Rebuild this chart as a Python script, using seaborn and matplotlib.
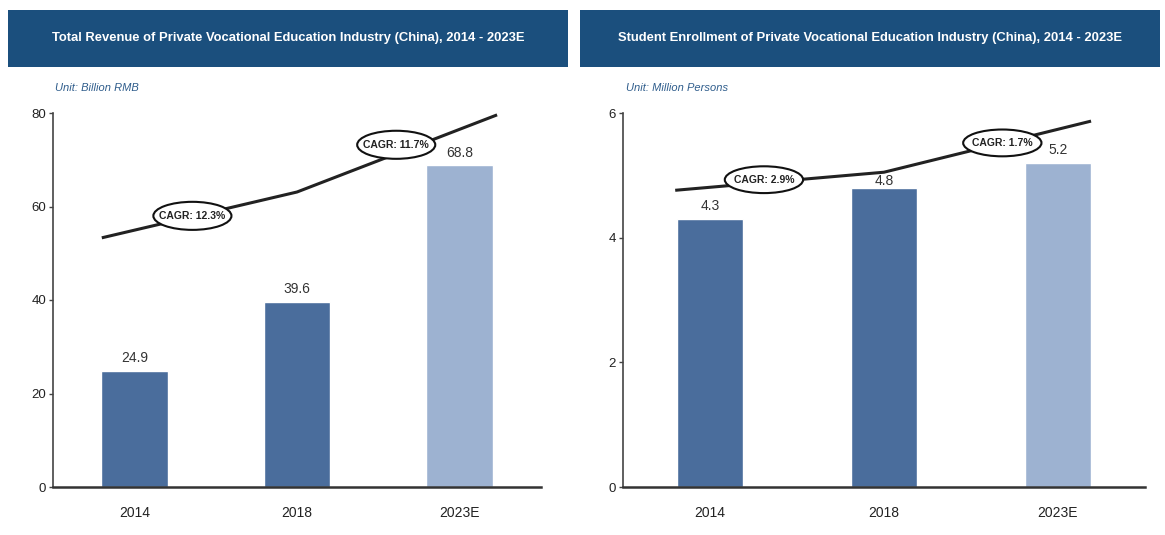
import matplotlib
matplotlib.use("Agg")
import matplotlib.pyplot as plt
import seaborn as sns
import pandas as pd
from matplotlib.patches import Ellipse, Rectangle

sns.set_theme(style="white")
plt.rcParams['font.family'] = ['Liberation Sans', 'DejaVu Sans']

# ---- data ----
years = ["2014", "2018", "2023E"]
revenue = [24.9, 39.6, 68.8]
enrollment = [4.3, 4.8, 5.2]

titles = ["Total Revenue of Private Vocational Education Industry (China), 2014 - 2023E",
          "Student Enrollment of Private Vocational Education Industry (China), 2014 - 2023E"]
units = ["Unit: Billion RMB", "Unit: Million Persons"]

# trend arrows (category position, value)
rev_trend_x = [-0.2, 1.0, 2.23]
rev_trend_y = [53.3, 63.1, 79.6]
enr_trend_x = [-0.2, 1.0, 2.19]
enr_trend_y = [4.76, 5.05, 5.87]

rev_cagr_labels = ["CAGR: 12.3%", "CAGR: 11.7%"]
rev_cagr_x = [0.357, 1.61]
rev_cagr_y = [58.0, 73.2]
enr_cagr_labels = ["CAGR: 2.9%", "CAGR: 1.7%"]
enr_cagr_x = [0.31, 1.68]
enr_cagr_y = [4.93, 5.52]

rev_ticks = [0, 20, 40, 60, 80]
enr_ticks = [0, 2, 4, 6]

DARK = "#4A6D9C"
LIGHT = "#9DB2D1"
HEADER = "#1B4F7D"
palette = {"2014": DARK, "2018": DARK, "2023E": LIGHT}

fig = plt.figure(figsize=(11.65, 5.35), dpi=100)

panels = [
    dict(vals=revenue, tx=rev_trend_x, ty=rev_trend_y, cl=rev_cagr_labels, cx=rev_cagr_x, cy=rev_cagr_y,
         ticks=rev_ticks, ylim=80, pos=[53/1165, 48/535, 488/1165, 374/535], width=0.41,
         ew=0.48, eh=6.0, offs=[4, 4, 4],
         band=(8, 568), unit_x=55, title=titles[0], unit=units[0]),
    dict(vals=enrollment, tx=enr_trend_x, ty=enr_trend_y, cl=enr_cagr_labels, cx=enr_cagr_x, cy=enr_cagr_y,
         ticks=enr_ticks, ylim=6, pos=[623/1165, 48/535, 522/1165, 374/535], width=0.385,
         ew=0.45, eh=0.43, offs=[4, -0.5, 4],
         band=(580, 1160), unit_x=626, title=titles[1], unit=units[1]),
]

for p in panels:
    # header band
    x0, x1 = p["band"]
    fig.patches.append(Rectangle((x0/1165, 1-67/535), (x1-x0)/1165, 57/535,
                                 transform=fig.transFigure, facecolor=HEADER, edgecolor="none", zorder=0))
    fig.text((x0+x1)/2/1165, 1-38/535, p["title"], color="white", fontsize=9.4, fontweight="bold",
             ha="center", va="center")
    fig.text(p["unit_x"]/1165, 1-88/535, p["unit"], color="#2F5D8C", fontsize=8, fontstyle="italic",
             ha="left", va="center")

    ax = fig.add_axes(p["pos"])
    df = pd.DataFrame({"year": years, "value": p["vals"]})
    sns.barplot(data=df, x="year", y="value", hue="year", palette=palette, legend=False,
                width=p["width"], ax=ax, saturation=1)
    for i, (v, o) in enumerate(zip(p["vals"], p["offs"])):
        ax.annotate("{:.1f}".format(v), (i, v), xytext=(0, o), textcoords="offset points",
                    ha="center", va="bottom", fontsize=10, color="#333333")
    ax.plot(p["tx"], p["ty"], color="#222222", lw=2.2, solid_capstyle="butt", zorder=3)
    for lab, cx, cy in zip(p["cl"], p["cx"], p["cy"]):
        ax.add_patch(Ellipse((cx, cy), p["ew"], p["eh"], facecolor="white", edgecolor="#111111",
                             lw=1.5, zorder=4))
        ax.text(cx, cy, lab, ha="center", va="center", fontsize=7.5, fontweight="bold",
                color="#222222", zorder=5)
    ax.set_xlim(-0.5, 2.5)
    ax.set_ylim(0, p["ylim"])
    ax.set_yticks(p["ticks"])
    ax.set_xlabel("")
    ax.set_ylabel("")
    for s in ["top", "right"]:
        ax.spines[s].set_visible(False)
    ax.spines["left"].set_color("#444444")
    ax.spines["bottom"].set_color("#333333")
    ax.spines["left"].set_linewidth(1.2)
    ax.spines["bottom"].set_linewidth(1.8)
    ax.tick_params(axis="y", left=True, length=3, width=1, color="#444444", labelsize=9.5,
                   labelcolor="#222222", pad=2)
    ax.tick_params(axis="x", bottom=False, length=0, labelsize=10, labelcolor="#222222", pad=14)
    ax.set_facecolor("white")
    ax.patch.set_alpha(0)

fig.savefig("out.png", dpi=100, facecolor="white")
